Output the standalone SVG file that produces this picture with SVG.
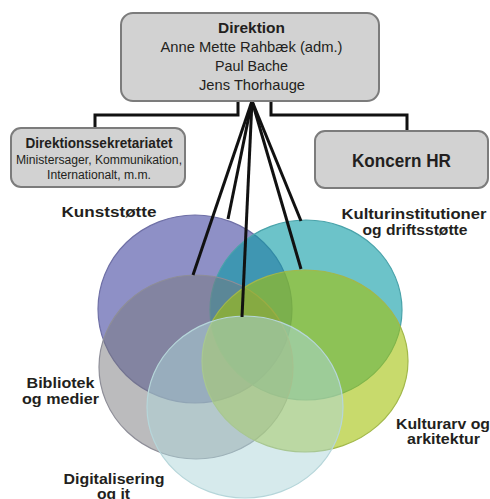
<svg xmlns="http://www.w3.org/2000/svg" width="490" height="499" viewBox="0 0 490 499">
<style>
.box{fill:#d2d2d2;stroke:#7c7c7c;stroke-width:2}
.bt{font-family:"Liberation Sans Narrow","Liberation Sans",Arial,sans-serif;fill:#231f20;text-anchor:middle}
.b{font-weight:bold}
.lbl{font-family:"Liberation Sans",Arial,sans-serif;font-weight:bold;font-size:14px;fill:#231f20;text-anchor:middle}
.con{fill:none;stroke:#111;stroke-width:3;stroke-linecap:butt;stroke-linejoin:miter}
.c{stroke-width:1.2}
</style>
<rect width="490" height="499" fill="#ffffff"/>
<g id="circles">
<g id="kunststotte"><ellipse class="c" cx="195" cy="309" rx="97" ry="94" fill="#8e90c6" stroke="#6f70a6"/></g>
<g id="kulturinstitutioner"><ellipse class="c" cx="306" cy="310" rx="96" ry="90" fill="rgb(10,155,165)" fill-opacity="0.6" stroke="#4aa3aa"/></g>
<g id="bibliotek"><ellipse class="c" cx="196" cy="367" rx="97" ry="92" fill="rgb(119,119,124)" fill-opacity="0.5" stroke="#8e8e98"/></g>
<g id="kulturarv"><ellipse class="c" cx="305" cy="361" rx="103" ry="91" fill="rgb(163,193,10)" fill-opacity="0.6" stroke="#a2b84a"/></g>
<g id="digitalisering"><ellipse class="c" cx="245" cy="407" rx="98" ry="91" fill="rgb(173,213,217)" fill-opacity="0.5" stroke="#b6d6da"/></g>
</g>
<g id="connectors">
<polyline class="con" points="238,101 238,115 95,115 95,128"/>
<polyline class="con" points="271,101 271,115 407,115 407,131"/>
<line class="con" x1="252" y1="101" x2="228" y2="219"/>
<line class="con" x1="252" y1="101" x2="193" y2="275"/>
<line class="con" x1="252" y1="101" x2="242" y2="317"/>
<line class="con" x1="252" y1="101" x2="301" y2="269"/>
<line class="con" x1="252" y1="101" x2="301" y2="221"/>
</g>
<g id="direktion">
<rect class="box" x="121" y="13" width="258" height="88" rx="12"/>
<text class="bt b" x="251.5" y="33" font-size="14.5" textLength="67" lengthAdjust="spacingAndGlyphs">Direktion</text>
<text class="bt" x="251.5" y="52" font-size="14.5" textLength="182" lengthAdjust="spacingAndGlyphs">Anne Mette Rahbæk (adm.)</text>
<text class="bt" x="251.5" y="71" font-size="14.5" textLength="73" lengthAdjust="spacingAndGlyphs">Paul Bache</text>
<text class="bt" x="252" y="90" font-size="14.5" textLength="106" lengthAdjust="spacingAndGlyphs">Jens Thorhauge</text>
</g>
<g id="direktionssekretariatet">
<rect class="box" x="11" y="128" width="174" height="59" rx="10"/>
<text class="bt b" x="99" y="148" font-size="14" textLength="147" lengthAdjust="spacingAndGlyphs">Direktionssekretariatet</text>
<text class="bt" x="99" y="164" font-size="12.5" textLength="166" lengthAdjust="spacingAndGlyphs">Ministersager, Kommunikation,</text>
<text class="bt" x="99" y="179" font-size="12.5" textLength="104" lengthAdjust="spacingAndGlyphs">Internationalt, m.m.</text>
</g>
<g id="koncern-hr">
<rect class="box" x="315" y="131" width="173" height="57" rx="10"/>
<text class="bt b" x="401.5" y="167" font-size="17.5" textLength="99" lengthAdjust="spacingAndGlyphs">Koncern HR</text>
</g>
<g id="labels">
<text class="lbl" x="109" y="217" textLength="95" lengthAdjust="spacingAndGlyphs">Kunststøtte</text>
<text class="lbl" x="414" y="219" textLength="145" lengthAdjust="spacingAndGlyphs">Kulturinstitutioner</text>
<text class="lbl" x="415" y="234.5" textLength="105" lengthAdjust="spacingAndGlyphs">og driftsstøtte</text>
<text class="lbl" x="60.5" y="388" textLength="68" lengthAdjust="spacingAndGlyphs">Bibliotek</text>
<text class="lbl" x="60.5" y="403.5" textLength="77" lengthAdjust="spacingAndGlyphs">og medier</text>
<text class="lbl" x="114" y="484" textLength="101" lengthAdjust="spacingAndGlyphs">Digitalisering</text>
<text class="lbl" x="113.5" y="498.5" textLength="33" lengthAdjust="spacingAndGlyphs">og it</text>
<text class="lbl" x="443" y="429" textLength="94" lengthAdjust="spacingAndGlyphs">Kulturarv og</text>
<text class="lbl" x="443.5" y="444" textLength="73" lengthAdjust="spacingAndGlyphs">arkitektur</text>
</g>
</svg>
